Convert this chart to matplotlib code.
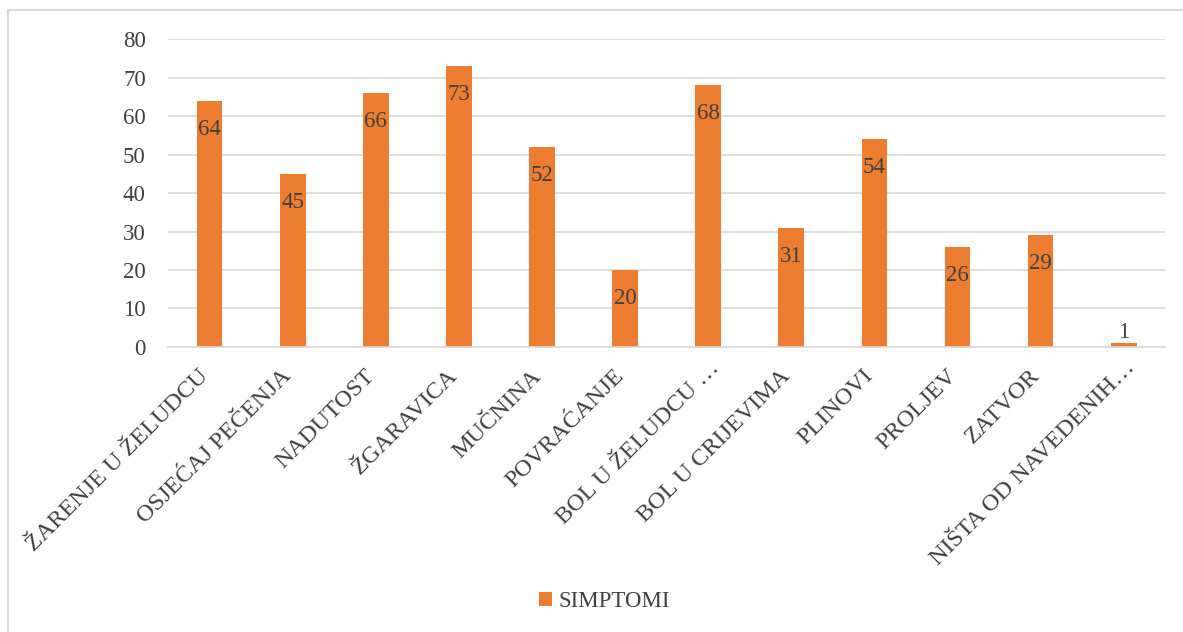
import matplotlib.pyplot as plt
import matplotlib.transforms as mtransforms
from matplotlib.lines import Line2D

plt.rcParams['font.family'] = ['Liberation Serif', 'DejaVu Serif']

simptomi = ["ŽARENJE U ŽELUDCU", "OSJEĆAJ PEČENJA", "NADUTOST", "ŽGARAVICA",
            "MUČNINA", "POVRAĆANJE", "BOL U ŽELUDCU …", "BOL U CRIJEVIMA",
            "PLINOVI", "PROLJEV", "ZATVOR", "NIŠTA OD NAVEDENIH…"]
broj = [64, 45, 66, 73, 52, 20, 68, 31, 54, 26, 29, 1]

tekst = "#404040"
siva = "#d9d9d9"
fs = 16.5

fig = plt.figure(figsize=(11.83, 6.32), dpi=100)
ax = fig.add_axes([0.142, 0.451, 0.843, 0.487])

x = range(len(simptomi))
bars = ax.bar(x, broj, width=0.31, color="#ED7D31", label="SIMPTOMI", zorder=2)

# oznake vrijednosti unutar stupca (iznad ako je stupac premali)
for b, v in zip(bars, broj):
    cx = b.get_x() + b.get_width() / 2
    if v > 5:
        ax.annotate(str(v), (cx, v), xytext=(0, -13), textcoords="offset points",
                    ha="center", va="top", fontsize=fs, color=tekst)
    else:
        ax.annotate(str(v), (cx, v), xytext=(0, 0), textcoords="offset points",
                    ha="center", va="bottom", fontsize=fs, color=tekst)

ax.set_ylim(0, 80)
ax.set_xlim(-0.5, len(simptomi) - 0.5)
ax.set_yticks(range(0, 81, 10))
ax.yaxis.grid(True, color=siva, linewidth=1.2, zorder=0)
ax.set_axisbelow(True)
for s in ["top", "right", "left"]:
    ax.spines[s].set_visible(False)
ax.spines["bottom"].set_color(siva)
ax.spines["bottom"].set_linewidth(1.2)
ax.tick_params(axis="both", length=0, labelsize=fs, colors=tekst)
ax.tick_params(axis="y", pad=16)
ax.tick_params(axis="x", pad=0)
ax.set_xticks(list(x))
ax.set_xticklabels(simptomi, rotation=45, ha="right", va="center",
                   rotation_mode="anchor", fontsize=17.5)
pomak = mtransforms.ScaledTranslation(-0.04, -0.26, fig.dpi_scale_trans)
# u originalu su tri točke šire, pa se tekst s "…" malo pomakne
pomak_tocke = mtransforms.ScaledTranslation(0.08, -0.18, fig.dpi_scale_trans)
for lbl in ax.get_xticklabels():
    if lbl.get_text().endswith("…"):
        lbl.set_transform(lbl.get_transform() + pomak_tocke)
    else:
        lbl.set_transform(lbl.get_transform() + pomak)

fig.legend(loc="center", bbox_to_anchor=(0.511, 0.0475), frameon=False,
           fontsize=fs, labelcolor=tekst, handlelength=0.55, handleheight=0.55,
           handletextpad=0.3)

# okvir grafikona (lijevo i gore)
fig.add_artist(Line2D([8 / 1183, 8 / 1183, 1.0], [0.0, 1 - 10 / 632, 1 - 10 / 632],
                      transform=fig.transFigure, color=siva, linewidth=1.5))

fig.savefig("out.png", dpi=100)
